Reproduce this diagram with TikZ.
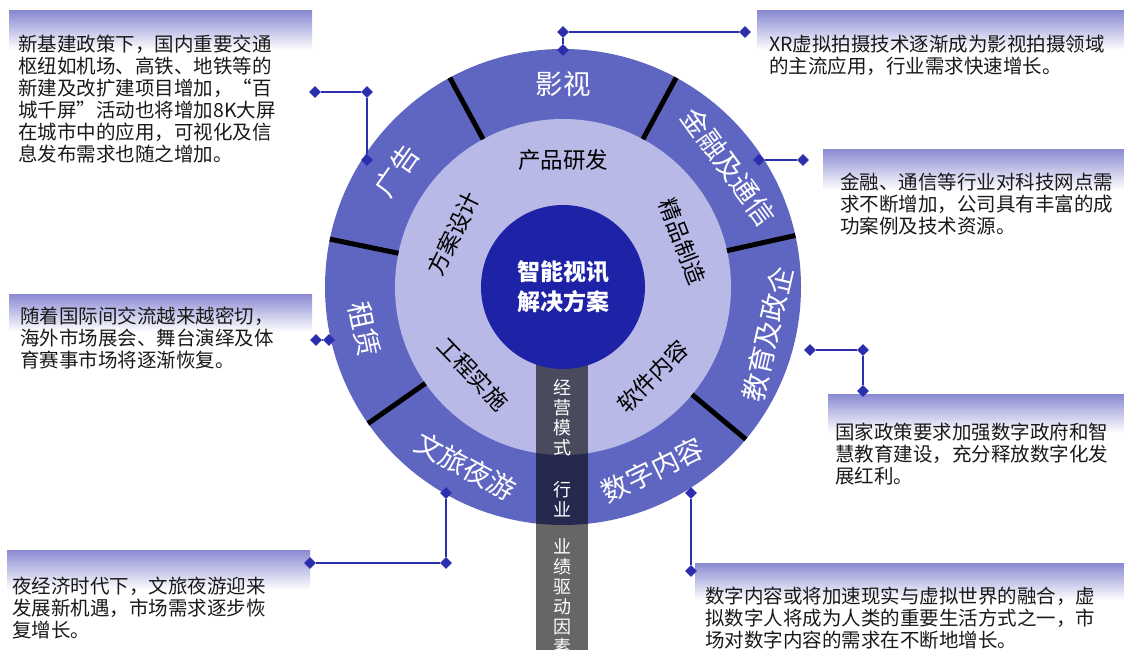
\documentclass[tikz,border=0pt]{standalone}
\usepackage{fontspec}
\setmainfont{Noto Sans CJK SC}
\usetikzlibrary{shapes.geometric, calc}
\definecolor{ringout}{HTML}{5F66C1}
\definecolor{ringmid}{HTML}{B8B9E6}
\definecolor{core}{HTML}{1D22A6}
\definecolor{lnk}{HTML}{2B2FAE}
\definecolor{hdr}{HTML}{8A8AD3}

\tikzset{
  outlbl/.style={text=white, inner sep=0, font=\fontsize{27.5}{29}\selectfont},
  midlbl/.style={text=black, inner sep=0, font=\fontsize{22.5}{24}\selectfont},
  barlbl/.style={text=white, align=center, inner sep=0, font=\fontsize{18}{20}\selectfont},
  dia/.style={diamond, fill=lnk, minimum size=12pt, inner sep=0},
  conn/.style={draw=lnk, line width=1.3pt},
  hdrbar/.style={top color=hdr, middle color=hdr!35, bottom color=white},
  note/.style={anchor=north west, align=left, inner sep=0, text=black!90, font=\fontsize{19.5}{22}\selectfont}
}

\begin{document}
\begin{tikzpicture}[x=1pt, y=1pt]
    \useasboundingbox (0,0) rectangle (1124,-650);
    \coordinate (c) at (563,-287);

    % Headers of the notes:
    \shade[hdrbar] (9,-11) rectangle (312,-50);
    \shade[hdrbar] (9,-294) rectangle (312,-332);
    \shade[hdrbar] (7,-550) rectangle (310,-590);
    \shade[hdrbar] (757,-11) rectangle (1124,-50);
    \shade[hdrbar] (823,-149) rectangle (1124,-190);
    \shade[hdrbar] (828,-394) rectangle (1124,-433);
    \shade[hdrbar] (695,-563) rectangle (1124,-600);

    % Rings:
    \fill[ringout] (c) circle (238);
    \fill[ringmid] (c) circle (168);
    \foreach \a in {12.5, 61.6, 118.4, 168.4, 215, 320.2}
        \draw[line width=5pt] ($(c)+(\a:168)$) -- ($(c)+(\a:238)$);
    \fill[black, opacity=0.6] (536,-287) rectangle (588,-650);
    \fill[core] (c) circle (82);

    \node[text=white, align=center, inner sep=0, font=\bfseries\fontsize{23}{30}\selectfont] (core) at (c) {智能视讯\\解决方案};

    % Inner ring labels
    \node[midlbl] (yf) at ($(c)+(90:127)$) {产品研发};
    \node[midlbl, rotate=-69] (zz) at ($(c)+(21:128)$) {精品制造};
    \node[midlbl, rotate=64] (fa) at ($(c)+(154:122)$) {方案设计};
    \node[midlbl, rotate=-46] (gc) at ($(c)+(224:125)$) {工程实施};
    \node[midlbl, rotate=45] (rj) at ($(c)+(-45:127)$) {软件内容};

    % Outer ring labels
    \node[outlbl] (ys) at ($(c)+(90:203)$) {影视};
    \node[outlbl, rotate=-54] (jr) at ($(c)+(36:205)$) {金融及通信};
    \node[outlbl, rotate=77] (jy) at ($(c)+(-13:210)$) {教育及政企};
    \node[outlbl, rotate=26] (sz) at ($(c)+(-64:204)$) {数字内容};
    \node[outlbl, rotate=-28.5] (wl) at ($(c)+(241.5:204)$) {文旅夜游};
    \node[outlbl, rotate=-78] (zl) at ($(c)+(192:203)$) {租赁};
    \node[outlbl, rotate=55] (gg) at ($(c)+(145:203)$) {广告};

    % Bar
    \node[barlbl] (jyms) at (562,-418) {经\\营\\模\\式};
    \node[barlbl] (hy) at (562,-499) {行\\业};
    \node[barlbl] (yj) at (562,-597) {业\\绩\\驱\\动\\因\\素};

    % Connectors
    \node[dia] (ys1) at (563,-50) {};
    \node[dia] (ys2) at (563,-32) {};
    \node[dia] (ys3) at (745,-32) {};
    \draw[conn] (ys1) -- (ys2) -- (ys3);

    \node[dia] (jr1) at (759,-160) {};
    \node[dia] (jr2) at (803,-160) {};
    \draw[conn] (jr1) -- (jr2);

    \node[dia] (jy1) at (810,-350) {};
    \node[dia] (jy2) at (863,-350) {};
    \node[dia] (jy3) at (863,-391) {};
    \draw[conn] (jy1) -- (jy2) -- (jy3);

    \node[dia] (sz1) at (691,-493) {};
    \node[dia] (sz2) at (691,-571) {};
    \draw[conn] (sz1) -- (sz2);

    \node[dia] (wl1) at (446,-493) {};
    \node[dia] (wl2) at (446,-563) {};
    \node[dia] (wl3) at (310,-563) {};
    \draw[conn] (wl1) -- (wl2) -- (wl3);

    \node[dia] (zl1) at (329,-340) {};
    \node[dia] (zl2) at (316,-340) {};
    \draw[conn] (zl1) -- (zl2);

    \node[dia] (gg1) at (367,-160) {};
    \node[dia] (gg2) at (367,-92) {};
    \node[dia] (gg3) at (315,-92) {};
    \draw[conn] (gg1) -- (gg2) -- (gg3);

    % Notes
    \node[note] (ggtxt) at (18,-35) {新基建政策下，国内重要交通\\枢纽如机场、高铁、地铁等的\\新建及改扩建项目增加，“百\\城千屏”活动也将增加8K大屏\\在城市中的应用，可视化及信\\息发布需求也随之增加。};
    \node[note] (zltxt) at (20,-307) {随着国际间交流越来越密切，\\海外市场展会、舞台演绎及体\\育赛事市场将逐渐恢复。};
    \node[note] (wltxt) at (12,-577) {夜经济时代下，文旅夜游迎来\\发展新机遇，市场需求逐步恢\\复增长。};
    \node[note] (ystxt) at (769,-35) {XR虚拟拍摄技术逐渐成为影视拍摄领域\\的主流应用，行业需求快速增长。};
    \node[note] (jrtxt) at (840,-173) {金融、通信等行业对科技网点需\\求不断增加，公司具有丰富的成\\功案例及技术资源。};
    \node[note] (jytxt) at (835,-423) {国家政策要求加强数字政府和智\\慧教育建设，充分释放数字化发\\展红利。};
    \node[note] (sztxt) at (705,-587) {数字内容或将加速现实与虚拟世界的融合，虚\\拟数字人将成为人类的重要生活方式之一，市\\场对数字内容的需求在不断地增长。};
\end{tikzpicture}
\end{document}
